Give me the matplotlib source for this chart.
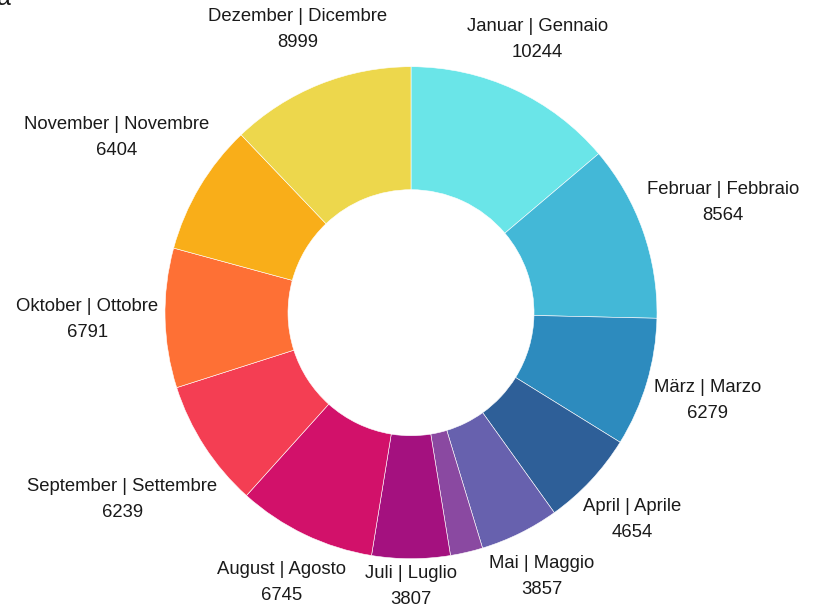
import numpy as np
import matplotlib
matplotlib.use("Agg")
import matplotlib.pyplot as plt

plt.rcParams['font.family'] = ['Liberation Sans', 'DejaVu Sans']

months = [
    "Januar | Gennaio", "Februar | Febbraio", "März | Marzo", "April | Aprile",
    "Mai | Maggio", "Juni | Giugno", "Juli | Luglio", "August | Agosto",
    "September | Settembre", "Oktober | Ottobre", "November | Novembre",
    "Dezember | Dicembre",
]
values = [10244, 8564, 6279, 4654, 3857, 1580, 3807, 6745, 6239, 6791, 6404, 8999]
show_label = [True, True, True, True, True, False, True, True, True, True, True, True]
colors = [
    "#6ae5e8", "#43b8d7", "#2d8bbe", "#2e5f98", "#6761ae", "#8a49a1",
    "#a4117f", "#d2116a", "#f43e53", "#fe7035", "#f9ae19", "#edd74c",
]

# pixel layout (axes in pixel units)
W, H = 820, 615
cx, cy = 411, H - 312.7
R = 246
hole = 0.5
gap = 6

fig = plt.figure(figsize=(W / 100, H / 100), dpi=100)
ax = fig.add_axes([0, 0, 1, 1])

wedges, _ = ax.pie(values, colors=colors, startangle=90, counterclock=False,
                   center=(cx, cy), radius=R,
                   wedgeprops=dict(width=R * (1 - hole), edgecolor="white", linewidth=0.4))
ax.set_xlim(0, W)
ax.set_ylim(0, H)
ax.set_aspect("equal")
ax.axis("off")

renderer = fig.canvas.get_renderer()
total = sum(values)
cum = 0
for name, v, show in zip(months, values, show_label):
    mid = (cum + v / 2) / total * 2 * np.pi
    cum += v
    if not show:
        continue
    ux, uy = np.sin(mid), np.cos(mid)
    t = ax.text(0, 0, f"{name}\n{v}", ha="center", va="center", ma="center",
                fontsize=13.3, linespacing=1.7, color="#1a1a1a")
    bb = t.get_window_extent(renderer)
    rho = R + gap + bb.width / 2 * abs(ux) + bb.height / 2 * abs(uy)
    t.set_position((cx + rho * ux, cy + rho * uy))

# clipped title remnant at the top-left corner
fig.text(-0.004, 1 - 5 / H, "a", fontsize=18, ha="left", va="baseline", color="#1a1a1a")

fig.savefig("out.png", dpi=100)
